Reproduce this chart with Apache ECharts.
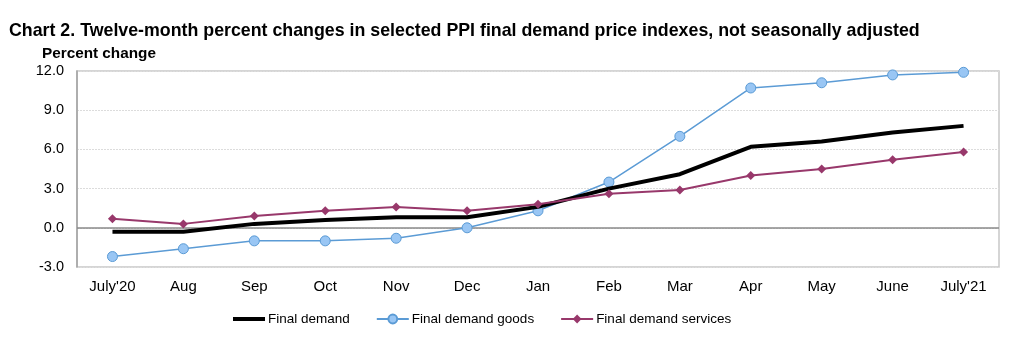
<!DOCTYPE html>
<html>
<head>
<meta charset="utf-8">
<script src="https://cdn.jsdelivr.net/npm/echarts@6/dist/echarts.min.js"></script>
<style>
  html, body { margin: 0; padding: 0; background: #fff; }
  #chart { width: 1022px; height: 339px; }
</style>
</head>
<body>
<div id="chart"></div>
<script>
// Months on the category axis
const months = ["July'20", "Aug", "Sep", "Oct", "Nov", "Dec", "Jan", "Feb", "Mar", "Apr", "May", "June", "July'21"];

// Twelve-month percent changes, not seasonally adjusted
const finalDemand = [-0.3, -0.3, 0.3, 0.6, 0.8, 0.8, 1.6, 3.0, 4.1, 6.2, 6.6, 7.3, 7.8];
const finalDemandGoods = [-2.2, -1.6, -1.0, -1.0, -0.8, 0.0, 1.3, 3.5, 7.0, 10.7, 11.1, 11.7, 11.9];
const finalDemandServices = [0.7, 0.3, 0.9, 1.3, 1.6, 1.3, 1.8, 2.6, 2.9, 4.0, 4.5, 5.2, 5.8];

// Value axis ticks
const yMin = -3, yMax = 12, yStep = 3;

const FONT = '"Liberation Sans", Arial, Helvetica, sans-serif';
const chart = echarts.init(document.getElementById('chart'), null, { renderer: 'canvas' });

chart.setOption({
  animation: false,
  backgroundColor: '#ffffff',
  textStyle: { fontFamily: FONT },
  title: [
    {
      text: 'Chart 2. Twelve-month percent changes in selected PPI final demand price indexes, not seasonally adjusted',
      left: 4, top: 17,
      textStyle: { fontFamily: FONT, fontSize: 17.8, fontWeight: 'bold', color: '#000' }
    },
    {
      text: 'Percent change',
      left: 37, top: 41,
      textStyle: { fontFamily: FONT, fontSize: 15.3, fontWeight: 'bold', color: '#000' }
    }
  ],
  grid: {
    left: 77, right: 23, top: 71, bottom: 72,
    show: true, borderColor: '#c8c8c8', borderWidth: 1.5, backgroundColor: 'transparent'
  },
  legend: {
    bottom: 8, left: 226,
    itemWidth: 32, itemHeight: 11, itemGap: 26,
    textStyle: { fontFamily: FONT, fontSize: 13.5, color: '#000', padding: [0, 0, 0, -2] },
    data: [
      { name: 'Final demand', itemStyle: { opacity: 0 }, lineStyle: { width: 4 } },
      'Final demand goods',
      'Final demand services'
    ]
  },
  xAxis: {
    type: 'category',
    data: months,
    boundaryGap: true,
    axisLine: { show: false },
    axisTick: { show: false },
    axisLabel: { color: '#000', fontSize: 15, fontFamily: FONT, margin: 12, interval: 0 },
    splitLine: { show: false }
  },
  yAxis: {
    type: 'value',
    min: yMin, max: yMax, interval: yStep,
    axisLine: { show: true, lineStyle: { color: '#a0a0a0', width: 1.5 } },
    axisTick: { show: false },
    axisLabel: {
      color: '#000', fontSize: 14.5, fontFamily: FONT, margin: 13,
      formatter: v => v.toFixed(1)
    },
    splitLine: { show: true, lineStyle: { color: '#dcdcdc', type: [2, 1], width: 1 } }
  },
  series: [
    {
      name: 'Final demand',
      type: 'line',
      data: finalDemand,
      symbol: 'none',
      z: 4,
      lineStyle: { color: '#000', width: 4 },
      itemStyle: { color: '#000' },
      markLine: {
        silent: true,
        symbol: 'none',
        label: { show: false },
        lineStyle: { color: '#8a8a8a', type: 'solid', width: 1.5 },
        data: [{ yAxis: 0 }],
        z: 1
      }
    },
    {
      name: 'Final demand goods',
      type: 'line',
      data: finalDemandGoods,
      symbol: 'circle',
      symbolSize: 10,
      z: 3,
      lineStyle: { color: '#5b9bd5', width: 1.5 },
      itemStyle: { color: '#99c6f4', borderColor: '#5b9bd5', borderWidth: 1 }
    },
    {
      name: 'Final demand services',
      type: 'line',
      data: finalDemandServices,
      symbol: 'diamond',
      symbolSize: 9,
      z: 5,
      lineStyle: { color: '#98386b', width: 2 },
      itemStyle: { color: '#98386b' }
    }
  ]
});
</script>
</body>
</html>
